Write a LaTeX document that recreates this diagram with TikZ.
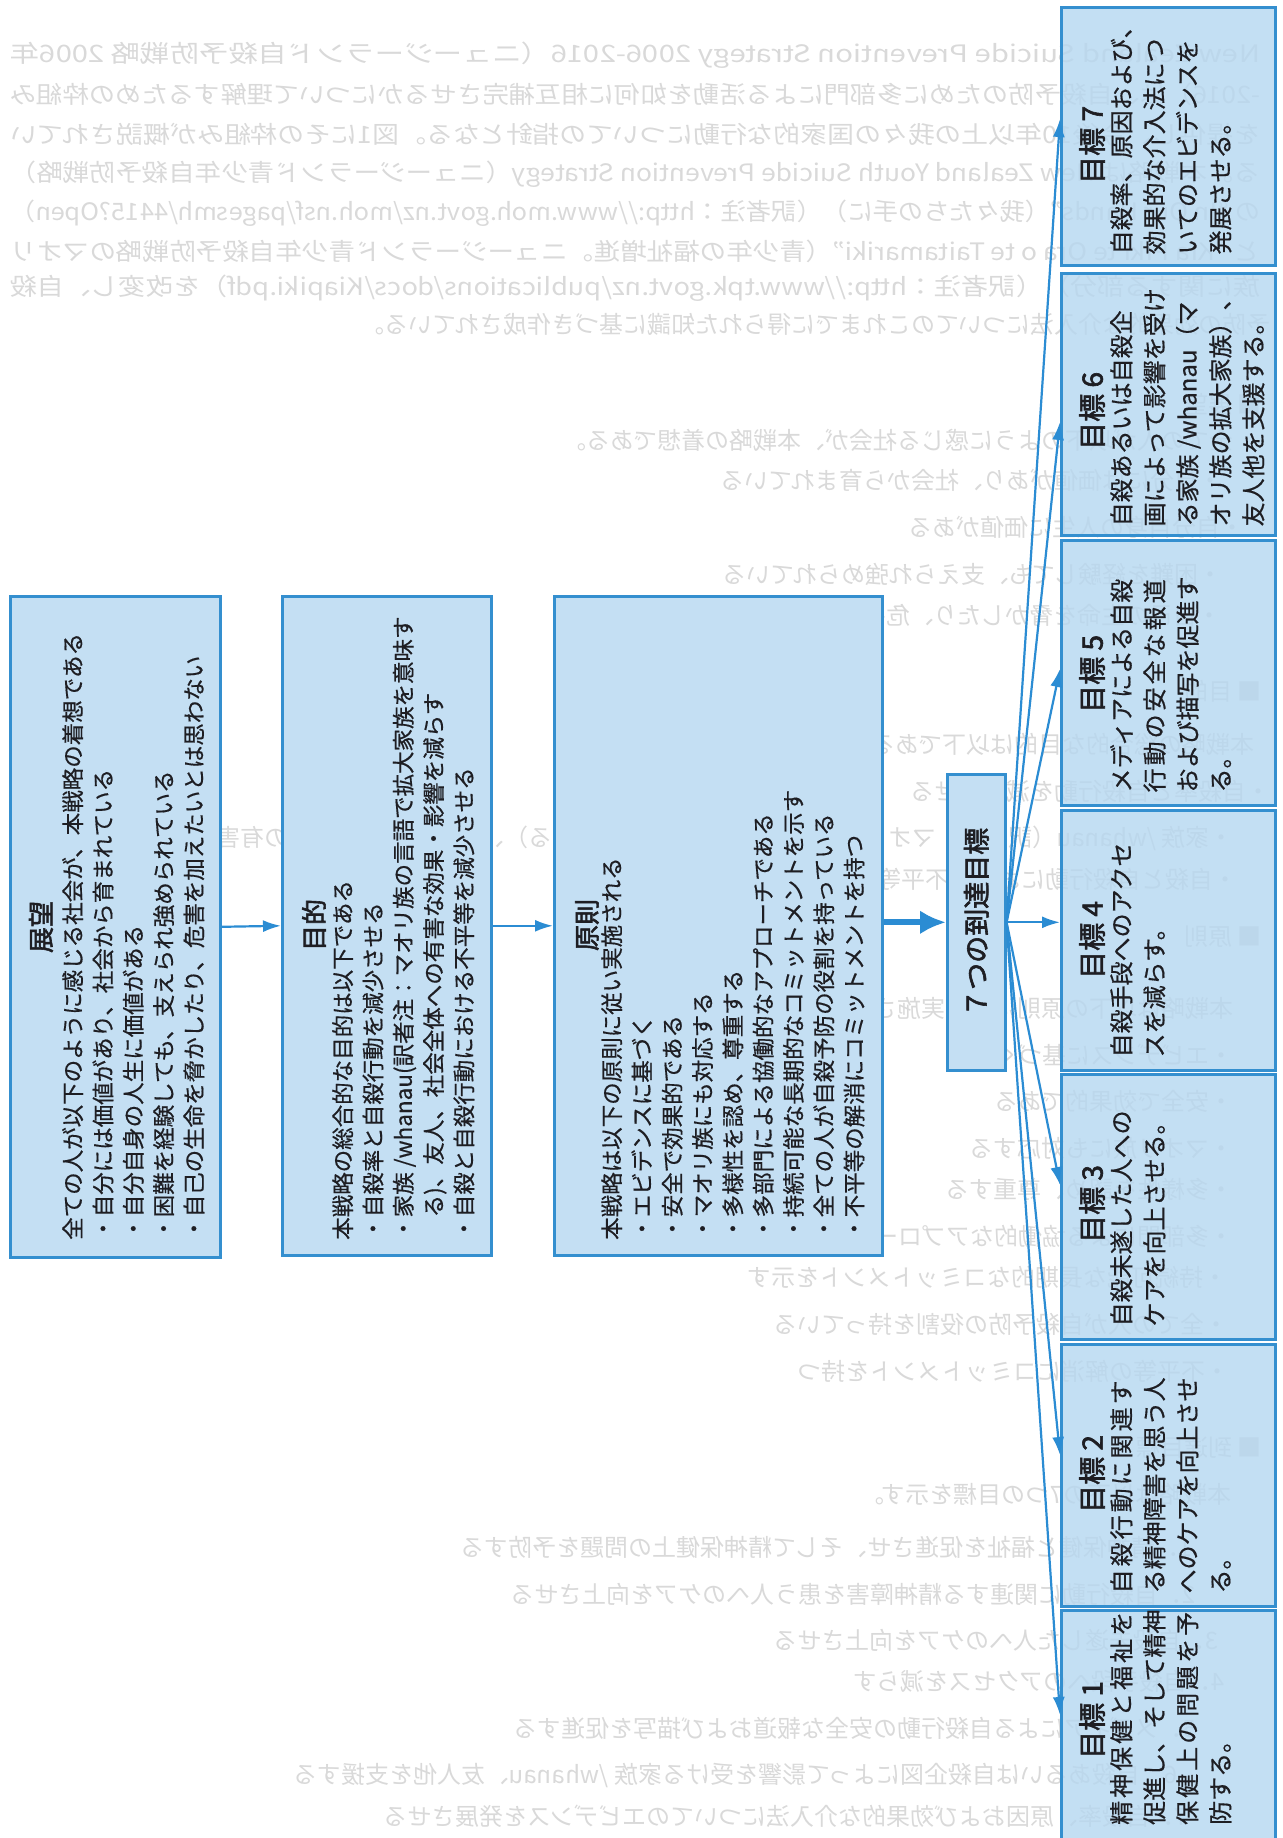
\documentclass[tikz,border=0pt]{standalone}
\usepackage{fontspec}
\usepackage{graphicx}
\setmainfont{Noto Sans CJK JP}[AutoFakeBold=2.2]
\newfontfamily\jpbody{Noto Sans CJK JP}[FakeBold=0.5]
\usetikzlibrary{arrows.meta,calc}
\definecolor{boxfill}{RGB}{196,223,243}
\definecolor{gfill}{RGB}{181,215,240}
\definecolor{boxline}{RGB}{52,143,207}
\definecolor{arrowc}{RGB}{43,140,211}
\definecolor{txt}{RGB}{30,30,35}
\newcommand{\ls}[1]{{\addfontfeature{LetterSpace=12.5}#1}}
\newcommand{\faintline}[4]{\node[faint,anchor=#2] (#1) at (#3) {\reflectbox{#4}};}
\newcommand{\faintfull}[3]{\node[faint,anchor=west] (#1) at (#2) {\reflectbox{\resizebox{1250pt}{\height}{#3}}};}
\begin{document}
\begin{tikzpicture}[x=1pt,y=-1pt,
  box/.style={draw=boxline, line width=2.6pt, fill=boxfill, inner sep=0pt, anchor=north west},
  gbox/.style={box, fill=gfill, fill opacity=0.8, draw opacity=1},
  ttl/.style={rotate=90, font=\fontsize{26}{30}\selectfont\bfseries, text=txt, inner sep=0pt},
  gttl/.style={rotate=90, anchor=west, font=\fontsize{28}{30}\selectfont\bfseries, text=txt, inner sep=0pt},
  body/.style={rotate=90, anchor=north west, align=left, font=\jpbody\fontsize{22.5}{30.3}\selectfont, text=txt, inner sep=0pt},
  gbody/.style={rotate=90, anchor=north west, align=left, font=\jpbody\fontsize{24}{33}\selectfont, text=txt, inner sep=0pt},
  arr/.style={draw=arrowc, line width=2.2pt, -{Latex[length=18pt,width=12pt]}},
  bigarr/.style={draw=arrowc, line width=6pt, -{Latex[length=26pt,width=24pt]}},
  faint/.style={font=\fontsize{24}{24}\selectfont, text=black, text opacity=0.15, inner sep=0pt},
]
\fill[white] (0,0) rectangle (1282,1838);
\useasboundingbox (0,0) rectangle (1282,1838);

% faint show-through of the reverse page (mirrored)
\faintfull{f1}{10,55}{New Zealand Suicide Prevention Strategy 2006-2016（ニュージーランド自殺予防戦略 2006年}
\faintfull{f2}{10,94}{-2016）は、自殺予防のために多部門による活動を如何に相互補完させるかについて理解するための枠組み}
\faintfull{f3}{10,134}{を提供し、今後10年以上の我々の国家的な行動についての指針となる。図1にその枠組みが概説されてい}
\faintfull{f4}{10,174}{る。本戦略は New Zealand Youth Suicide Prevention Strategy（ニュージーランド青少年自殺予防戦略）}
\faintfull{f5}{10,213}{の “In Our Hands”（我々たちの手に）（訳者注：http://www.moh.govt.nz/moh.nsf/pagesmh/4415?Open）}
\faintfull{f6}{10,251}{と “Kia Piki te Ora o te Taitamariki”（青少年の福祉増進。ニュージーランド青少年自殺予防戦略のマオリ}
\faintfull{f7}{10,288}{族に関する部分）（訳者注：http://www.tpk.govt.nz/publications/docs/Kiapiki.pdf）を改変し、自殺}
\faintline{f8}{west}{360,324}{予防の効果的な介入法についてのこれまでに得られた知識に基づき作成されている。}
\faintline{f9}{east}{1262,404}{■ 展望}
\faintline{f10}{west}{562,440}{全ての人が以下のように感じる社会が、本戦略の着想である。}
\faintline{f11}{west}{720,480}{・自分には価値があり、社会から育まれている}
\faintline{f12}{west}{908,527}{・自分自身の人生に価値がある}
\faintline{f13}{west}{722,574}{・困難を経験しても、支えられ強められている}
\faintline{f14}{west}{598,615}{・自己の生命を脅かしたり、危害を加えたいとは思わない}
\faintline{f15}{east}{1262,691}{■ 目的}
\faintline{f16}{west}{847,744}{本戦略の総合的な目的は以下である。}
\faintline{f17}{west}{910,791}{・自殺率と自殺行動を減少させる}
\faintline{f18}{east}{1234,838}{・家族 /whanau（訳者注：マオリ族の言語で拡大家族を意味する）、友人、社会全体への有害な影響を減らす}
\faintline{f19}{west}{733,879}{・自殺と自殺行動における不平等を減少させる}
\faintline{f20}{east}{1262,937}{■ 原則}
\faintline{f21}{east}{1234,1008}{本戦略は以下の原則に従い実施される。}
\faintline{f22}{east}{1234,1055}{・エビデンスに基づく}
\faintline{f23}{east}{1234,1101}{・安全で効果的である}
\faintline{f24}{east}{1234,1148}{・マオリ族にも対応する}
\faintline{f25}{east}{1234,1189}{・多様性を認め、尊重する}
\faintline{f26}{east}{1234,1236}{・多部門による協働的なアプローチである}
\faintline{f27}{west}{747,1277}{・持続可能な長期的なコミットメントを示す}
\faintline{f28}{west}{773,1324}{・全ての人が自殺予防の役割を持っている}
\faintline{f29}{west}{797,1371}{・不平等の解消にコミットメントを持つ}
\faintline{f30}{east}{1262,1447}{■ 到達目標}
\faintline{f31}{west}{860,1494}{本戦略は以下の7つの目標を示す。}
\faintline{f32}{west}{460,1547}{1．精神保健と福祉を促進させ、そして精神保健上の問題を予防する}
\faintline{f33}{west}{510,1594}{2．自殺行動に関連する精神障害を患う人へのケアを向上させる}
\faintline{f34}{west}{773,1640}{3．自殺未遂した人へのケアを向上させる}
\faintline{f35}{west}{853,1681}{4．自殺手段へのアクセスを減らす}
\faintline{f36}{west}{513,1728}{5．メディアによる自殺行動の安全な報道および描写を促進する}
\faintline{f37}{west}{293,1775}{6．自殺あるいは自殺企図によって影響を受ける家族 /whanau、友人他を支援する}
\faintline{f38}{west}{383,1816}{7．自殺率、原因および効果的な介入法についてのエビデンスを発展させる}

% main boxes
\node[box, minimum width=210pt, minimum height=661pt] (vision) at (9,595) {};
\node[box, minimum width=209pt, minimum height=659pt] (aim) at (281,595) {};
\node[box, minimum width=328pt, minimum height=659pt] (principle) at (553,595) {};
\node[box, minimum width=58pt, minimum height=296pt] (seven) at (946,773) {};

\node[ttl] (visionT) at (41,927) {展望};
\node[body] (visionB) at (62,1240) {全ての人が以下のように感じる社会が、本戦略の着想である\\
・自分には価値があり、社会から育まれている\\
・自分自身の人生に価値がある\\
・困難を経験しても、支えられ強められている\\
・自己の生命を脅かしたり、危害を加えたいとは思わない};

\node[ttl] (aimT) at (314,925) {目的};
\node[body] (aimB) at (332,1240) {本戦略の総合的な目的は以下である\\
・自殺率と自殺行動を減少させる\\
・家族 /whanau(訳者注：マオリ族の言語で拡大家族を意味す\\
\hspace*{1em}る)、友人、社会全体への有害な効果・影響を減らす\\
・自殺と自殺行動における不平等を減少させる};

\node[ttl] (principleT) at (587,925) {原則};
\node[body] (principleB) at (601,1240) {本戦略は以下の原則に従い実施される\\
・エビデンスに基づく\\
・安全で効果的である\\
・マオリ族にも対応する\\
・多様性を認め、尊重する\\
・多部門による協働的なアプローチである\\
・持続可能な長期的なコミットメントを示す\\
・全ての人が自殺予防の役割を持っている\\
・不平等の解消にコミットメントを持つ};

\node[rotate=90, font=\fontsize{27}{30}\selectfont\bfseries, text=txt, inner sep=0pt] (sevenT) at (seven.center) {７つの到達目標};

% goal boxes
\node[gbox, minimum width=214pt, minimum height=258pt] (g7) at (1060,6) {};
\node[gbox, minimum width=214pt, minimum height=262pt] (g6) at (1060,272) {};
\node[gbox, minimum width=214pt, minimum height=265pt] (g5) at (1060,539) {};
\node[gbox, minimum width=214pt, minimum height=260pt] (g4) at (1060,809) {};
\node[gbox, minimum width=214pt, minimum height=265pt] (g3) at (1060,1073) {};
\node[gbox, minimum width=214pt, minimum height=262pt] (g2) at (1060,1343) {};
\node[gbox, minimum width=214pt, minimum height=270pt] (g1) at (1060,1609) {};

\node[gttl] (g7T) at ($(g7.north west)+(32,178)$) {目標 7};
\node[gbody] (g7B) at ($(g7.south west)+(50,-12)$) {自殺率、原因および、\\効果的な介入法につ\\いてのエビデンスを\\発展させる。};
\node[gttl] (g6T) at ($(g6.north west)+(32,178)$) {目標 6};
\node[gbody] (g6B) at ($(g6.south west)+(50,-10)$) {自殺あるいは自殺企\\画によって影響を受け\\る家族 /whanau（マ\\オリ族の拡大家族）、\\友人他を支援する。};
\node[gttl] (g5T) at ($(g5.north west)+(32,174)$) {目標 5};
\node[gbody] (g5B) at ($(g5.south west)+(50,-14)$) {メディアによる自殺\\\ls{行動の安全な報道}\\および描写を促進す\\る。};
\node[gttl] (g4T) at ($(g4.north west)+(32,170)$) {目標 4};
\node[gbody] (g4B) at ($(g4.south west)+(50,-14)$) {自殺手段へのアクセ\\スを減らす。};
\node[gttl] (g3T) at ($(g3.north west)+(32,170)$) {目標 3};
\node[gbody] (g3B) at ($(g3.south west)+(50,-14)$) {自殺未遂した人への\\ケアを向上させる。};
\node[gttl] (g2T) at ($(g2.north west)+(32,170)$) {目標 2};
\node[gbody] (g2B) at ($(g2.south west)+(50,-14)$) {\ls{自殺行動に関連す}\\る精神障害を思う人\\へのケアを向上させ\\る。};
\node[gttl] (g1T) at ($(g1.north west)+(32,150)$) {目標 1};
\node[gbody] (g1B) at ($(g1.north west)+(50,216)$) {\ls{精神保健と福祉を}\\促進し、そして精神\\\ls{保健上の問題を予}\\防する。};

% connectors
\draw[arr] (vision.east) -- (aim.west);
\draw[arr] (aim.east) -- (principle.west);
\draw[bigarr] (principle.east |- seven.west) -- (seven.west);
\draw[arr] (seven.east) -- ($(g7.north west)+(0,113)$);
\draw[arr] (seven.east) -- ($(g6.north west)+(0,150)$);
\draw[arr] (seven.east) -- ($(g5.north west)+(0,130)$);
\draw[arr] (seven.east) -- (seven.east -| g4.west);
\draw[arr] (seven.east) -- ($(g3.north west)+(0,112)$);
\draw[arr] (seven.east) -- ($(g2.north west)+(0,112)$);
\draw[arr] (seven.east) -- ($(g1.north west)+(0,106)$);
\end{tikzpicture}
\end{document}
